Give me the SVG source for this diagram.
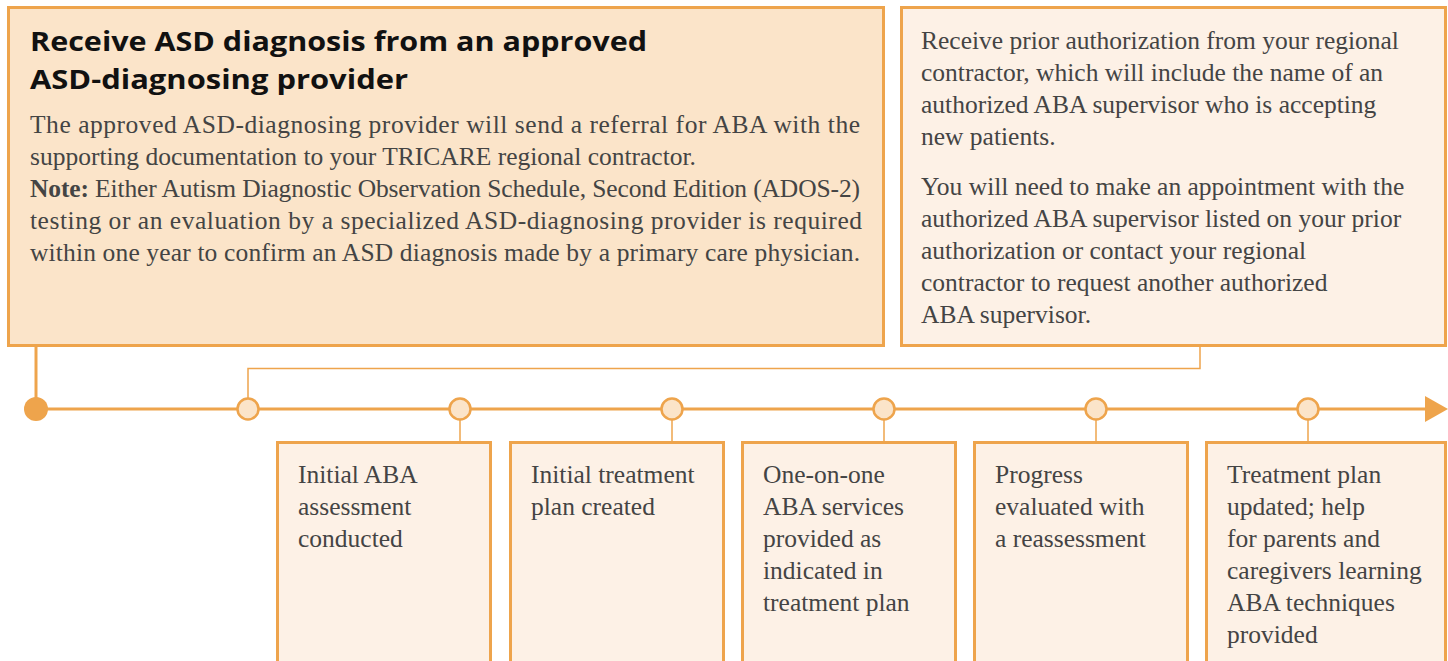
<svg xmlns="http://www.w3.org/2000/svg" width="1448" height="661" viewBox="0 0 1448 661">
<style>
.box1{fill:#fbe4c9;stroke:#eea44c;stroke-width:3}
.box2{fill:#fdf1e6;stroke:#eea44c;stroke-width:3}
.step{fill:#fdf1e6;stroke:#eea44c;stroke-width:3}
.title{font-family:"Open Sans","Liberation Sans",Arial,sans-serif;font-weight:bold;font-size:26.5px;fill:#111}
.body{font-family:"Liberation Serif","Times New Roman",serif;font-size:25.5px;fill:#444}
.conn{stroke:#eea44c;fill:none}
.node{fill:#fbe4c9;stroke:#eea44c;stroke-width:2.5}
</style>
<rect width="1448" height="661" fill="#fff"/>
<g id="connectors">
<line class="conn" x1="36" y1="346" x2="36" y2="409" stroke-width="3"/>
<polyline class="conn" points="1200,346 1200,368.5 248,368.5 248,398" stroke-width="1.5"/>
<line class="conn" x1="36" y1="409" x2="1428" y2="409" stroke-width="3"/>
<polygon points="1425,396 1448,409 1425,422" fill="#eea44c"/>
<line class="conn" x1="460" y1="420" x2="460" y2="442" stroke-width="1.5"/>
<line class="conn" x1="672" y1="420" x2="672" y2="442" stroke-width="1.5"/>
<line class="conn" x1="884" y1="420" x2="884" y2="442" stroke-width="1.5"/>
<line class="conn" x1="1096" y1="420" x2="1096" y2="442" stroke-width="1.5"/>
<line class="conn" x1="1308" y1="420" x2="1308" y2="442" stroke-width="1.5"/>
</g>
<g id="start"><circle cx="36" cy="409" r="12" fill="#eea44c"/></g>
<g id="n1"><circle class="node" cx="248" cy="409" r="10.5"/></g>
<g id="n2"><circle class="node" cx="460" cy="409" r="10.5"/></g>
<g id="n3"><circle class="node" cx="672" cy="409" r="10.5"/></g>
<g id="n4"><circle class="node" cx="884" cy="409" r="10.5"/></g>
<g id="n5"><circle class="node" cx="1096" cy="409" r="10.5"/></g>
<g id="n6"><circle class="node" cx="1308" cy="409" r="10.5"/></g>
<g id="diagnosis">
<rect class="box1" x="8.5" y="7.5" width="875" height="338"/>
<text class="title" x="30" y="51" textLength="617" lengthAdjust="spacingAndGlyphs">Receive ASD diagnosis from an approved</text>
<text class="title" x="30" y="89" textLength="378" lengthAdjust="spacingAndGlyphs">ASD-diagnosing provider</text>
<text class="body" x="30" y="133" textLength="830">The approved ASD-diagnosing provider will send a referral for ABA with the</text>
<text class="body" x="30" y="165">supporting documentation to your TRICARE regional contractor.</text>
<text class="body" x="30" y="197" textLength="830"><tspan font-weight="bold">Note:</tspan> Either Autism Diagnostic Observation Schedule, Second Edition (ADOS-2)</text>
<text class="body" x="30" y="229" textLength="832">testing or an evaluation by a specialized ASD-diagnosing provider is required</text>
<text class="body" x="30" y="261" textLength="830">within one year to confirm an ASD diagnosis made by a primary care physician.</text>
</g>
<g id="authorization">
<rect class="box2" x="901.5" y="7.5" width="544" height="338"/>
<text class="body" x="921" y="49">Receive prior authorization from your regional</text>
<text class="body" x="921" y="81">contractor, which will include the name of an</text>
<text class="body" x="921" y="113">authorized ABA supervisor who is accepting</text>
<text class="body" x="921" y="145">new patients.</text>
<text class="body" x="921" y="195">You will need to make an appointment with the</text>
<text class="body" x="921" y="227">authorized ABA supervisor listed on your prior</text>
<text class="body" x="921" y="259">authorization or contact your regional</text>
<text class="body" x="921" y="291">contractor to request another authorized</text>
<text class="body" x="921" y="323">ABA supervisor.</text>
</g>
<g id="step1">
<rect class="step" x="277.5" y="442.5" width="213" height="230"/>
<text class="body" x="298" y="483">Initial ABA</text>
<text class="body" x="298" y="515">assessment</text>
<text class="body" x="298" y="547">conducted</text>
</g>
<g id="step2">
<rect class="step" x="510.5" y="442.5" width="213" height="230"/>
<text class="body" x="531" y="483">Initial treatment</text>
<text class="body" x="531" y="515">plan created</text>
</g>
<g id="step3">
<rect class="step" x="742.5" y="442.5" width="213" height="230"/>
<text class="body" x="763" y="483">One-on-one</text>
<text class="body" x="763" y="515">ABA services</text>
<text class="body" x="763" y="547">provided as</text>
<text class="body" x="763" y="579">indicated in</text>
<text class="body" x="763" y="611">treatment plan</text>
</g>
<g id="step4">
<rect class="step" x="974.5" y="442.5" width="213" height="230"/>
<text class="body" x="995" y="483">Progress</text>
<text class="body" x="995" y="515">evaluated with</text>
<text class="body" x="995" y="547">a reassessment</text>
</g>
<g id="step5">
<rect class="step" x="1206.5" y="442.5" width="239" height="230"/>
<text class="body" x="1227" y="483">Treatment plan</text>
<text class="body" x="1227" y="515">updated; help</text>
<text class="body" x="1227" y="547">for parents and</text>
<text class="body" x="1227" y="579">caregivers learning</text>
<text class="body" x="1227" y="611">ABA techniques</text>
<text class="body" x="1227" y="643">provided</text>
</g>
</svg>
